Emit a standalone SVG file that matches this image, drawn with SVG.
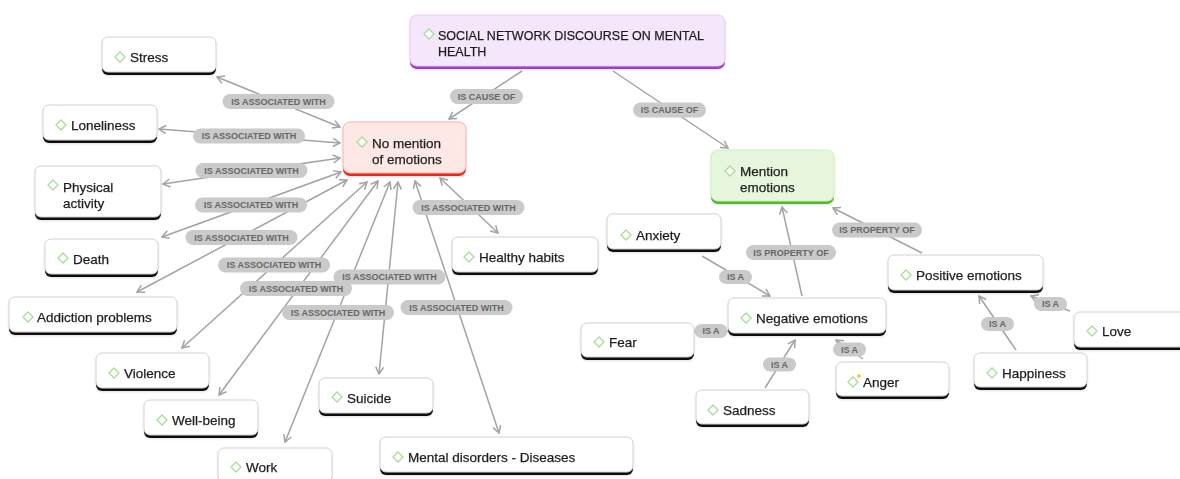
<svg xmlns="http://www.w3.org/2000/svg" width="1180" height="479" viewBox="0 0 1180 479">
<defs>
<style>
.bg{fill:#ffffff}
.line{stroke:#a3a3a3;stroke-width:1.5;fill:none}
.bi{marker-start:url(#ah);marker-end:url(#ah)}
.uni{marker-end:url(#ah)}
.pill{fill:#cacaca}
.pt{font-family:"Liberation Sans",Arial,sans-serif;font-size:9px;font-weight:bold;fill:#666666;text-anchor:middle}
.box{fill:#ffffff;stroke:#d2d2d2;stroke-width:1}
.bar{fill:#111111}
.nt{font-family:"Liberation Sans",Arial,sans-serif;font-size:13.5px;fill:#1e1e1e;stroke:#1e1e1e;stroke-width:0.25}
.rt{font-family:"Liberation Sans",Arial,sans-serif;font-size:12.5px;fill:#1e1e1e;stroke:#1e1e1e;stroke-width:0.25}
.dia{fill:#ffffff;stroke:#a9dc9c;stroke-width:1.3}
</style>
<marker id="ah" viewBox="0 0 10 10" refX="9" refY="5" markerWidth="10" markerHeight="10" markerUnits="userSpaceOnUse" orient="auto-start-reverse">
<path d="M2,1 L9,5 L2,9" fill="none" stroke="#a3a3a3" stroke-width="1.5"/>
</marker>
<filter id="sh" x="-10%" y="-10%" width="120%" height="130%">
<feDropShadow dx="0" dy="1" stdDeviation="1" flood-color="#000" flood-opacity="0.12"/>
</filter>
</defs>
<rect class="bg" x="0" y="0" width="1180" height="479"/>

<g id="connectors">
<line class="line uni" x1="522" y1="71" x2="449" y2="119"/>
<line class="line uni" x1="613" y1="71" x2="728" y2="148"/>
<line class="line bi" x1="217" y1="77" x2="340" y2="127"/>
<line class="line bi" x1="159" y1="129" x2="340" y2="143"/>
<line class="line bi" x1="163" y1="184" x2="340" y2="158"/>
<line class="line bi" x1="162" y1="237" x2="341" y2="172"/>
<line class="line bi" x1="137" y1="292" x2="347" y2="180"/>
<line class="line bi" x1="182" y1="348" x2="367" y2="182"/>
<line class="line bi" x1="219" y1="395" x2="378" y2="181"/>
<line class="line bi" x1="285" y1="442" x2="390" y2="182"/>
<line class="line bi" x1="379" y1="374" x2="398" y2="182"/>
<line class="line bi" x1="499" y1="433" x2="415" y2="181"/>
<line class="line bi" x1="498" y1="233" x2="440" y2="178"/>
<line class="line uni" x1="702" y1="256" x2="770" y2="296"/>
<line class="line uni" x1="802" y1="296" x2="782" y2="207"/>
<line class="line uni" x1="922" y1="253" x2="833" y2="208"/>
<line class="line uni" x1="765" y1="388" x2="795" y2="340"/>
<line class="line uni" x1="863" y1="359" x2="836" y2="340"/>
<line class="line uni" x1="1016" y1="350" x2="979" y2="296"/>
<line class="line uni" x1="1070" y1="311" x2="1031" y2="296"/>
<line class="line" x1="694" y1="331" x2="728" y2="331"/>
<rect class="pill" x="450" y="89" width="73" height="15" rx="7.5"/><text class="pt" x="486.5" y="99.8">IS CAUSE OF</text>
<rect class="pill" x="633" y="102.5" width="73" height="15" rx="7.5"/><text class="pt" x="669.5" y="113.3">IS CAUSE OF</text>
<rect class="pill" x="222.5" y="94" width="112" height="15" rx="7.5"/><text class="pt" x="278.5" y="104.8">IS ASSOCIATED WITH</text>
<rect class="pill" x="193" y="128.5" width="112" height="15" rx="7.5"/><text class="pt" x="249" y="139.3">IS ASSOCIATED WITH</text>
<rect class="pill" x="195.5" y="163" width="112" height="15" rx="7.5"/><text class="pt" x="251.5" y="173.8">IS ASSOCIATED WITH</text>
<rect class="pill" x="195" y="197.5" width="112" height="15" rx="7.5"/><text class="pt" x="251" y="208.3">IS ASSOCIATED WITH</text>
<rect class="pill" x="185.5" y="230" width="112" height="15" rx="7.5"/><text class="pt" x="241.5" y="240.8">IS ASSOCIATED WITH</text>
<rect class="pill" x="218" y="257.5" width="112" height="15" rx="7.5"/><text class="pt" x="274" y="268.3">IS ASSOCIATED WITH</text>
<rect class="pill" x="333.5" y="269.5" width="112" height="15" rx="7.5"/><text class="pt" x="389.5" y="280.3">IS ASSOCIATED WITH</text>
<rect class="pill" x="240" y="281" width="112" height="15" rx="7.5"/><text class="pt" x="296" y="291.8">IS ASSOCIATED WITH</text>
<rect class="pill" x="282" y="305" width="112" height="15" rx="7.5"/><text class="pt" x="338" y="315.8">IS ASSOCIATED WITH</text>
<rect class="pill" x="400.5" y="300" width="112" height="15" rx="7.5"/><text class="pt" x="456.5" y="310.8">IS ASSOCIATED WITH</text>
<rect class="pill" x="412.5" y="200" width="112" height="15" rx="7.5"/><text class="pt" x="468.5" y="210.8">IS ASSOCIATED WITH</text>
<rect class="pill" x="746" y="245" width="90" height="15" rx="7.5"/><text class="pt" x="791" y="255.8">IS PROPERTY OF</text>
<rect class="pill" x="832" y="222.5" width="90" height="15" rx="7.5"/><text class="pt" x="877" y="233.3">IS PROPERTY OF</text>
<rect class="pill" x="719" y="270" width="33" height="14" rx="7"/><text class="pt" x="735.5" y="280.3">IS A</text>
<rect class="pill" x="694.5" y="324" width="33" height="14" rx="7"/><text class="pt" x="711" y="334.3">IS A</text>
<rect class="pill" x="763" y="357.5" width="33" height="14" rx="7"/><text class="pt" x="779.5" y="367.8">IS A</text>
<rect class="pill" x="833" y="342.5" width="33" height="14" rx="7"/><text class="pt" x="849.5" y="352.8">IS A</text>
<rect class="pill" x="981" y="317" width="33" height="14" rx="7"/><text class="pt" x="997.5" y="327.3">IS A</text>
<rect class="pill" x="1034" y="297" width="33" height="14" rx="7"/><text class="pt" x="1050.5" y="307.3">IS A</text>
</g>

<g id="node-root" filter="url(#sh)">
<rect x="410" y="18" width="315" height="51" rx="7" fill="#9c3fc2"/>
<rect x="410" y="15" width="315" height="51" rx="7" fill="#f4e6fb" stroke="#e6cdf2"/>
<path class="dia" d="M429,29 L434,34 L429,39 L424,34 Z"/>
<text class="rt" x="438" y="40">SOCIAL NETWORK DISCOURSE ON MENTAL</text>
<text class="rt" x="438" y="56">HEALTH</text>
</g>

<g id="node-nomention" filter="url(#sh)">
<rect x="343" y="125" width="123" height="51" rx="7" fill="#e8281b"/>
<rect x="343" y="122" width="123" height="51" rx="7" fill="#fee8e6" stroke="#f6b3ad"/>
<path class="dia" d="M362,137 L367,142 L362,147 L357,142 Z"/>
<text class="nt" x="372" y="148">No mention</text>
<text class="nt" x="372" y="164">of emotions</text>
</g>

<g id="node-mention" filter="url(#sh)">
<rect x="711" y="153" width="123" height="51" rx="7" fill="#57b52b"/>
<rect x="711" y="150" width="123" height="51" rx="7" fill="#e7f7dd" stroke="#cdeebd"/>
<path class="dia" d="M730,166 L735,171 L730,176 L725,171 Z"/>
<text class="nt" x="740" y="176">Mention</text>
<text class="nt" x="740" y="192">emotions</text>
</g>

<g id="node-stress" filter="url(#sh)">
<rect class="bar" x="102" y="40" width="114" height="35" rx="6"/>
<rect class="box" x="102" y="37" width="114" height="35" rx="6"/>
<path class="dia" d="M120,52 L125,57 L120,62 L115,57 Z"/>
<text class="nt" x="130" y="62">Stress</text>
</g>

<g id="node-loneliness" filter="url(#sh)">
<rect class="bar" x="43" y="108" width="114" height="35" rx="6"/>
<rect class="box" x="43" y="105" width="114" height="35" rx="6"/>
<path class="dia" d="M61,120 L66,125 L61,130 L56,125 Z"/>
<text class="nt" x="71" y="130">Loneliness</text>
</g>

<g id="node-physical" filter="url(#sh)">
<rect class="bar" x="35" y="169" width="126" height="51" rx="6"/>
<rect class="box" x="35" y="166" width="126" height="51" rx="6"/>
<path class="dia" d="M53,180 L58,185 L53,190 L48,185 Z"/>
<text class="nt" x="63" y="192">Physical</text>
<text class="nt" x="63" y="208">activity</text>
</g>

<g id="node-death" filter="url(#sh)">
<rect class="bar" x="45" y="242" width="113" height="35" rx="6"/>
<rect class="box" x="45" y="239" width="113" height="35" rx="6"/>
<path class="dia" d="M63,253 L68,258 L63,263 L58,258 Z"/>
<text class="nt" x="73" y="264">Death</text>
</g>

<g id="node-addiction" filter="url(#sh)">
<rect class="bar" x="9" y="300" width="168" height="35" rx="6"/>
<rect class="box" x="9" y="297" width="168" height="35" rx="6"/>
<path class="dia" d="M28,312 L33,317 L28,322 L23,317 Z"/>
<text class="nt" x="37" y="322">Addiction problems</text>
</g>

<g id="node-violence" filter="url(#sh)">
<rect class="bar" x="96" y="356" width="113" height="35" rx="6"/>
<rect class="box" x="96" y="353" width="113" height="35" rx="6"/>
<path class="dia" d="M114,368 L119,373 L114,378 L109,373 Z"/>
<text class="nt" x="124" y="378">Violence</text>
</g>

<g id="node-wellbeing" filter="url(#sh)">
<rect class="bar" x="144" y="403" width="114" height="35" rx="6"/>
<rect class="box" x="144" y="400" width="114" height="35" rx="6"/>
<path class="dia" d="M162,415 L167,420 L162,425 L157,420 Z"/>
<text class="nt" x="172" y="425">Well-being</text>
</g>

<g id="node-work" filter="url(#sh)">
<rect class="bar" x="218" y="451" width="114" height="35" rx="6"/>
<rect class="box" x="218" y="448" width="114" height="35" rx="6"/>
<path class="dia" d="M236,462 L241,467 L236,472 L231,467 Z"/>
<text class="nt" x="246" y="472">Work</text>
</g>

<g id="node-suicide" filter="url(#sh)">
<rect class="bar" x="319" y="381" width="114" height="35" rx="6"/>
<rect class="box" x="319" y="378" width="114" height="35" rx="6"/>
<path class="dia" d="M337,392 L342,397 L337,402 L332,397 Z"/>
<text class="nt" x="347" y="403">Suicide</text>
</g>

<g id="node-mental" filter="url(#sh)">
<rect class="bar" x="380" y="440" width="253" height="35" rx="6"/>
<rect class="box" x="380" y="437" width="253" height="35" rx="6"/>
<path class="dia" d="M398,452 L403,457 L398,462 L393,457 Z"/>
<text class="nt" x="408" y="462">Mental disorders - Diseases</text>
</g>

<g id="node-healthy" filter="url(#sh)">
<rect class="bar" x="452" y="240" width="146" height="35" rx="6"/>
<rect class="box" x="452" y="237" width="146" height="35" rx="6"/>
<path class="dia" d="M469,252 L474,257 L469,262 L464,257 Z"/>
<text class="nt" x="479" y="262">Healthy habits</text>
</g>

<g id="node-anxiety" filter="url(#sh)">
<rect class="bar" x="607" y="217" width="114" height="35" rx="6"/>
<rect class="box" x="607" y="214" width="114" height="35" rx="6"/>
<path class="dia" d="M626,230 L631,235 L626,240 L621,235 Z"/>
<text class="nt" x="636" y="240">Anxiety</text>
</g>

<g id="node-fear" filter="url(#sh)">
<rect class="bar" x="581" y="326" width="113" height="34" rx="6"/>
<rect class="box" x="581" y="323" width="113" height="34" rx="6"/>
<path class="dia" d="M599,337 L604,342 L599,347 L594,342 Z"/>
<text class="nt" x="609" y="347">Fear</text>
</g>

<g id="node-negative" filter="url(#sh)">
<rect class="bar" x="728" y="301" width="158" height="35" rx="6"/>
<rect class="box" x="728" y="298" width="158" height="35" rx="6"/>
<path class="dia" d="M746,313 L751,318 L746,323 L741,318 Z"/>
<text class="nt" x="756" y="323">Negative emotions</text>
</g>

<g id="node-sadness" filter="url(#sh)">
<rect class="bar" x="696" y="393" width="113" height="34" rx="6"/>
<rect class="box" x="696" y="390" width="113" height="34" rx="6"/>
<path class="dia" d="M713,405 L718,410 L713,415 L708,410 Z"/>
<text class="nt" x="723" y="415">Sadness</text>
</g>

<g id="node-anger" filter="url(#sh)">
<rect class="bar" x="836" y="365" width="113" height="34" rx="6"/>
<rect class="box" x="836" y="362" width="113" height="34" rx="6"/>
<path class="dia" d="M853,377 L858,382 L853,387 L848,382 Z"/>
<circle cx="859" cy="376" r="1.8" fill="#f5c21b"/>
<text class="nt" x="863" y="387">Anger</text>
</g>

<g id="node-positive" filter="url(#sh)">
<rect class="bar" x="888" y="258" width="155" height="35" rx="6"/>
<rect class="box" x="888" y="255" width="155" height="35" rx="6"/>
<path class="dia" d="M906,270 L911,275 L906,280 L901,275 Z"/>
<text class="nt" x="916" y="280">Positive emotions</text>
</g>

<g id="node-happiness" filter="url(#sh)">
<rect class="bar" x="974" y="356" width="113" height="34" rx="6"/>
<rect class="box" x="974" y="353" width="113" height="34" rx="6"/>
<path class="dia" d="M992,368 L997,373 L992,378 L987,373 Z"/>
<text class="nt" x="1002" y="378">Happiness</text>
</g>

<g id="node-love" filter="url(#sh)">
<rect class="bar" x="1074" y="315" width="116" height="35" rx="6"/>
<rect class="box" x="1074" y="312" width="116" height="35" rx="6"/>
<path class="dia" d="M1092,326 L1097,331 L1092,336 L1087,331 Z"/>
<text class="nt" x="1102" y="336">Love</text>
</g>
</svg>
